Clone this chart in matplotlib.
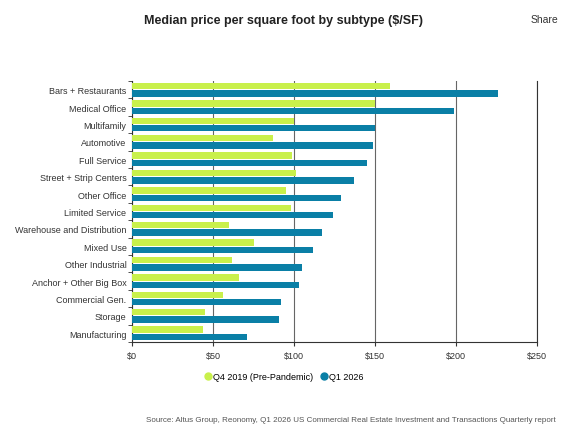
import matplotlib
matplotlib.use("Agg")
import matplotlib.pyplot as plt
from matplotlib.lines import Line2D
import numpy as np

categories = ["Bars + Restaurants","Medical Office","Multifamily","Automotive","Full Service",
              "Street + Strip Centers","Other Office","Limited Service","Warehouse and Distribution",
              "Mixed Use","Other Industrial","Anchor + Other Big Box","Commercial Gen.","Storage","Manufacturing"]
q4_2019 = [159,150,100,87,98.5,101,95,98,60,75,62,66,56,45,44]
q1_2026 = [226,199,150,149,145,137,129,124,117,112,105,103,92,91,71]
xticks = [0,50,100,150,200,250]
xticklabels = ["$0","$50","$100","$150","$200","$250"]
c_green, c_blue = "#c9f04b", "#0a7fa6"

plt.rcParams['font.family'] = ['Liberation Sans','DejaVu Sans']
fig = plt.figure(figsize=(5.68,4.39), dpi=100)
ax = fig.add_axes([132/568, 1-343/439, 405/568, 261/439])
y = np.arange(len(categories))
h = 0.37
ax.barh(y - h/2 - 0.03, q4_2019, height=h, color=c_green, zorder=3)
ax.barh(y + h/2 + 0.03, q1_2026, height=h, color=c_blue, zorder=3)
ax.set_ylim(len(categories)-0.5, -0.5)
ax.set_xlim(0,250)
ax.set_yticks(y)
ax.set_yticklabels(categories, fontsize=6.5, color="#333333")
ax.set_yticks(np.arange(len(categories)+1)-0.5, minor=True)
ax.tick_params(axis='y', which='major', length=0, pad=4)
ax.tick_params(axis='y', which='minor', length=3, color="#333333")
ax.set_xticks(xticks)
ax.set_xticklabels(xticklabels, fontsize=6.5, color="#333333")
ax.tick_params(axis='x', length=3, color="#333333")
ax.grid(axis='x', color="#666666", linewidth=0.8, zorder=0)
for s in ['left','bottom','right']:
    ax.spines[s].set_color("#333333")
ax.spines['top'].set_visible(False)
fig.text(0.5, 1-21/439, "Median price per square foot by subtype ($/SF)", ha='center', va='center',
         fontsize=9, fontweight='bold', color="#222222")
fig.text(558/568, 1-20/439, "Share", ha='right', va='center', fontsize=7.5, color="#333333")
handles = [Line2D([], [], marker='o', linestyle='', color=c_green, markersize=5),
           Line2D([], [], marker='o', linestyle='', color=c_blue, markersize=5)]
fig.legend(handles, ["Q4 2019 (Pre-Pandemic)", "Q1 2026"], loc='center', bbox_to_anchor=(0.5, 1-378/439),
           ncol=2, frameon=False, fontsize=6.5, handlelength=0.8, columnspacing=0.8, handletextpad=0.2)
fig.text(556/568, 1-421/439, "Source: Altus Group, Reonomy, Q1 2026 US Commercial Real Estate Investment and Transactions Quarterly report",
         ha='right', va='center', fontsize=5.8, color="#555555")
fig.savefig("out.png", dpi=100, facecolor="white")
